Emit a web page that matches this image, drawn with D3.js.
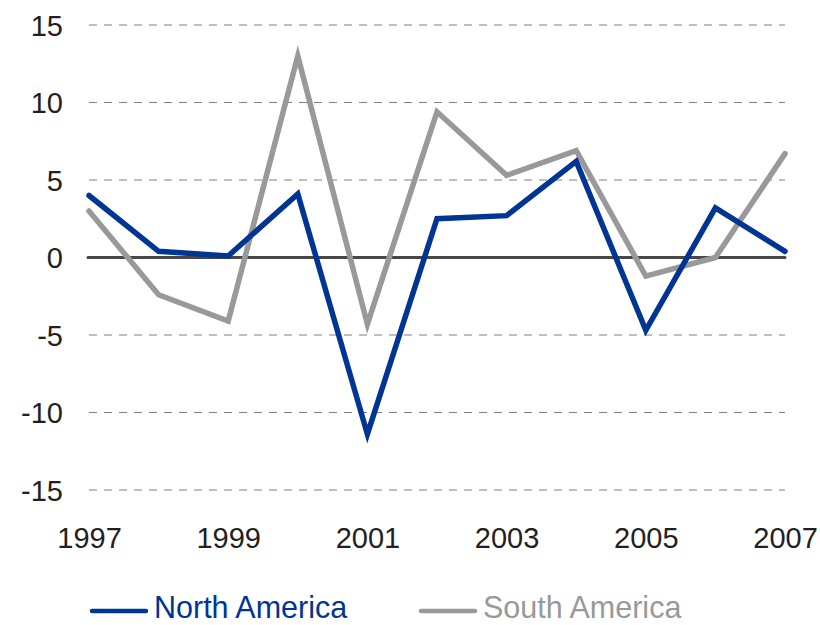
<!DOCTYPE html>
<html>
<head>
<meta charset="utf-8">
<script src="https://cdn.jsdelivr.net/npm/d3@7"></script>
<style>
body { margin: 0; background: #fff; }
.axis text { font: 29px "Liberation Sans", Arial, sans-serif; fill: #231f20; }
.axis path, .axis line { display: none; }
.legend text { font: 30.5px "Liberation Sans", Arial, sans-serif; }
</style>
</head>
<body>
<div class="target"></div>
<script>
var years = [1997, 1998, 1999, 2000, 2001, 2002, 2003, 2004, 2005, 2006, 2007];
var northAmerica = [4.0, 0.4, 0.1, 4.1, -11.4, 2.5, 2.7, 6.2, -4.7, 3.2, 0.4];
var southAmerica = [3.0, -2.4, -4.1, 13.0, -4.3, 9.4, 5.3, 6.9, -1.2, 0.0, 6.7];
var yTicks = [15, 10, 5, 0, -5, -10, -15];
var xTicks = [1997, 1999, 2001, 2003, 2005, 2007];
var seriesNames = ["North America", "South America"];
var seriesColors = ["#003594", "#999999"];

var width = 820, height = 625;
var margin = {left: 89, right: 35, top: 25, bottom: 135};

var svg = d3.select(".target").append("svg")
  .attr("width", width)
  .attr("height", height);

var x = d3.scaleLinear()
  .domain([1997, 2007])
  .range([margin.left, width - margin.right]);

var y = d3.scaleLinear()
  .domain([-15, 15])
  .range([height - margin.bottom, margin.top]);

// dashed grid
svg.append("g").selectAll("line")
  .data(yTicks.filter(function(d) { return d != 0; }))
  .enter().append("line")
    .attr("x1", x(1997))
    .attr("x2", x(2007))
    .attr("y1", function(d) { return y(d); })
    .attr("y2", function(d) { return y(d); })
    .attr("stroke", "#7f7f7f")
    .attr("stroke-width", 1)
    .attr("stroke-dasharray", "8,7");

// zero line
svg.append("line")
  .attr("x1", x(1997) - 1)
  .attr("x2", x(2007))
  .attr("y1", y(0))
  .attr("y2", y(0))
  .attr("stroke", "#4a4646")
  .attr("stroke-width", 3)
  .attr("stroke-linecap", "round");

// axes (plain hyphen for negatives, like the original)
svg.append("g")
  .attr("class", "axis")
  .attr("transform", "translate(" + (margin.left - 26) + ",0)")
  .call(d3.axisLeft(y).tickValues(yTicks).tickFormat(function(d) { return String(d); }).tickSize(0).tickPadding(0))
  .selectAll("text").attr("dy", "0.36em");

svg.append("g")
  .attr("class", "axis")
  .attr("transform", "translate(0," + (height - margin.bottom) + ")")
  .call(d3.axisBottom(x).tickValues(xTicks).tickFormat(d3.format("d")).tickSize(0).tickPadding(37));

// series lines
var line = d3.line()
  .x(function(d, i) { return x(years[i]); })
  .y(function(d) { return y(d); });

[southAmerica, northAmerica].forEach(function(s, k) {
  svg.append("path")
    .datum(s)
    .attr("d", line)
    .attr("fill", "none")
    .attr("stroke", seriesColors[1 - k])
    .attr("stroke-width", 5.5)
    .attr("stroke-linejoin", "miter")
    .attr("stroke-linecap", "round");
});

// legend
var legendX = [92, 421];
var legend = svg.append("g").attr("class", "legend");
seriesNames.forEach(function(name, i) {
  legend.append("line")
    .attr("x1", legendX[i])
    .attr("x2", legendX[i] + 54)
    .attr("y1", 611)
    .attr("y2", 611)
    .attr("stroke", seriesColors[i])
    .attr("stroke-width", 4.5)
    .attr("stroke-linecap", "round");
  legend.append("text")
    .attr("x", legendX[i] + 62)
    .attr("y", 618)
    .attr("fill", seriesColors[i])
    .text(name);
});
</script>
</body>
</html>
